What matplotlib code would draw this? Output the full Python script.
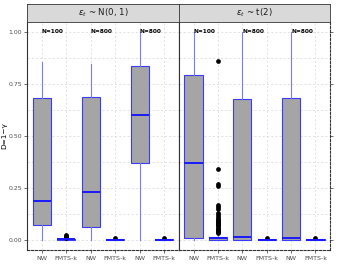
import matplotlib
matplotlib.use("Agg")
import matplotlib.pyplot as plt

# box statistics, one list per panel
methods = ["NW", "FMTS-k", "NW", "FMTS-k", "NW", "FMTS-k"]
sizes = ["N=100", "N=800", "N=800"]
panels = [r"$\varepsilon_t$ ~ N(0, 1)", r"$\varepsilon_t$ ~ t(2)"]

normal_whislo = [0.0, 0.0, 0.0, 0.0, 0.0, 0.0]
normal_q1 = [0.072, 0.0, 0.064, 0.0, 0.369, 0.0]
normal_med = [0.189, 0.003, 0.230, 0.001, 0.600, 0.001]
normal_q3 = [0.684, 0.006, 0.686, 0.003, 0.837, 0.003]
normal_whishi = [0.854, 0.008, 0.845, 0.004, 1.0, 0.004]
normal_fliers = [[], [0.010, 0.013, 0.016, 0.019, 0.022], [], [0.009], [], [0.008]]

t2_whislo = [0.0, 0.0, 0.0, 0.0, 0.0, 0.0]
t2_q1 = [0.008, 0.0, 0.0, 0.0, 0.0, 0.0]
t2_med = [0.369, 0.008, 0.016, 0.001, 0.008, 0.001]
t2_q3 = [0.793, 0.014, 0.678, 0.003, 0.681, 0.003]
t2_whishi = [1.0, 0.030, 1.0, 0.004, 1.0, 0.004]
t2_fliers = [[], [0.035, 0.04, 0.045, 0.05, 0.055, 0.06, 0.065, 0.07, 0.075,
                  0.08, 0.085, 0.09, 0.095, 0.10, 0.11, 0.12, 0.13, 0.15,
                  0.16, 0.17, 0.26, 0.27, 0.34, 0.862],
             [], [0.009], [], [0.008]]

yticks = [0.0, 0.25, 0.5, 0.75, 1.0]
ytick_labels = ["0.00", "0.25", "0.50", "0.75", "1.00"]


def make_stats(whislo, q1, med, q3, whishi, fliers):
    return [
        dict(whislo=a, q1=b, med=c, q3=d, whishi=e, fliers=f)
        for a, b, c, d, e, f in zip(whislo, q1, med, q3, whishi, fliers)
    ]


panel_stats = [
    make_stats(normal_whislo, normal_q1, normal_med, normal_q3, normal_whishi, normal_fliers),
    make_stats(t2_whislo, t2_q1, t2_med, t2_q3, t2_whishi, t2_fliers),
]

fig = plt.figure(figsize=(3.43, 2.73), dpi=100)
fig.patch.set_facecolor("white")

W, H = 343, 273
panel_x = [(27, 179), (179, 330)]
top, bottom = 22, 250
strip_top = 4
positions = list(range(1, 7))

blue = "#3b3bff"
for i, (x0, x1) in enumerate(panel_x):
    ax = fig.add_axes([x0 / W, 1 - bottom / H, (x1 - x0) / W, (bottom - top) / H])
    ax.set_xlim(0.4, 6.6)
    ax.set_ylim(-0.048, 1.048)

    for y in [k * 0.125 for k in range(9)]:
        ax.axhline(y, color="#d6d6d6", lw=0.5, ls=(0, (3, 3)), zorder=0)
    for x in positions:
        ax.axvline(x, color="#d6d6d6", lw=0.5, ls=(0, (3, 3)), zorder=0)

    ax.bxp(
        panel_stats[i],
        positions=positions,
        widths=0.75,
        patch_artist=True,
        showcaps=False,
        boxprops=dict(facecolor="#a5a5a5", edgecolor=blue, linewidth=0.8),
        medianprops=dict(color="#1a1aff", linewidth=1.4),
        whiskerprops=dict(color="#7b7bff", linewidth=0.8),
        flierprops=dict(marker="o", markersize=2.4, markerfacecolor="black",
                        markeredgecolor="black"),
    )

    for k, label in enumerate(sizes):
        ax.text(positions[2 * k] + 0.45, 1.0, label, fontsize=4.2,
                fontweight="bold", ha="center", va="center")

    ax.set_xticks(positions)
    ax.set_xticklabels(methods, fontsize=4.6, color="#4d4d4d")
    ax.set_yticks(yticks)
    ax.tick_params(axis="both", length=2, width=0.5, pad=1.5, color="#333333")
    ax.tick_params(axis="x", pad=2.5)
    if i == 0:
        ax.set_yticklabels(ytick_labels, fontsize=4.4, color="#4d4d4d")
        ax.set_ylabel("D=1\u2212\u03b3", fontsize=5.2)
        ax.yaxis.set_label_coords(-0.128, 0.5)
        ax.spines["right"].set_linewidth(0.8)
        ax.spines["right"].set_color("#333333")
    else:
        ax.tick_params(axis="y", left=False, labelleft=False, right=True)
        ax.spines["right"].set_linestyle((0, (2, 1.5)))
        ax.spines["right"].set_color("#333333")
    ax.spines["left"].set_color("#333333")
    ax.spines["left"].set_linewidth(0.8)
    ax.spines["bottom"].set_linestyle((0, (2, 1.5)))
    ax.spines["bottom"].set_color("#333333")
    ax.spines["top"].set_visible(False)

    strip = fig.add_axes([x0 / W, 1 - top / H, (x1 - x0) / W, (top - strip_top) / H])
    strip.set_facecolor("#d9d9d9")
    strip.set_xticks([])
    strip.set_yticks([])
    for s in strip.spines.values():
        s.set_color("#333333")
        s.set_linewidth(0.6)
    strip.text(0.5, 0.5, panels[i], fontsize=6.2, color="#1a1a1a",
               ha="center", va="center", transform=strip.transAxes)

fig.savefig("out.png", dpi=100)
